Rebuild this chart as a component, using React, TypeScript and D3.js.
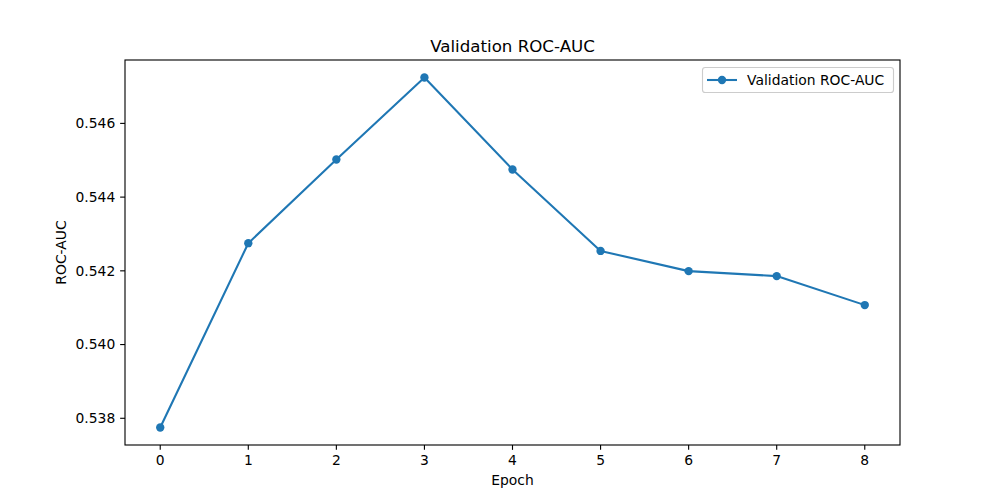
import React from "react";
import * as d3 from "d3";

const epochs = [0, 1, 2, 3, 4, 5, 6, 7, 8];
const rocAuc = [0.53775, 0.54275, 0.54502, 0.547245, 0.54475, 0.54254, 0.541992, 0.541857, 0.541072];
const yTicks = [0.538, 0.54, 0.542, 0.544, 0.546];
const xTicks = [0, 1, 2, 3, 4, 5, 6, 7, 8];
const seriesName = "Validation ROC-AUC";

const W = 1000, H = 500;
const L = 125, R = 900, T = 60, B = 445;
const FONT = "DejaVu Sans, sans-serif";
const COLOR = "#1f77b4";

export default function App() {
  const xMin = d3.min(epochs)!, xMax = d3.max(epochs)!;
  const yMin = d3.min(rocAuc)!, yMax = d3.max(rocAuc)!;
  const xm = (xMax - xMin) * 0.05, ym = (yMax - yMin) * 0.05;
  const x = d3.scaleLinear().domain([xMin - xm, xMax + xm]).range([L, R]);
  const y = d3.scaleLinear().domain([yMin - ym, yMax + ym]).range([B, T]);
  const line = d3.line<number>().x((_, i) => x(epochs[i])).y((d) => y(d));
  const tickLen = 4.86;
  const fs = 13.89;
  return (
    <svg width={W} height={H} style={{ position: "absolute", left: 0, top: 0 }} fontFamily={FONT}>
      <rect x={0} y={0} width={W} height={H} fill="#fff" />
      <text x={(L + R) / 2} y={51.7} textAnchor="middle" fontSize={16.67} fill="#000">
        Validation ROC-AUC
      </text>
      {xTicks.map((t) => (
        <g key={"x" + t}>
          <line x1={x(t)} x2={x(t)} y1={B} y2={B + tickLen} stroke="#000" strokeWidth={1.11} />
          <text x={x(t)} y={B + tickLen + 4.86} dy="0.76em" textAnchor="middle" fontSize={fs}>
            {t}
          </text>
        </g>
      ))}
      {yTicks.map((t) => (
        <g key={"y" + t}>
          <line x1={L - tickLen} x2={L} y1={y(t)} y2={y(t)} stroke="#000" strokeWidth={1.11} />
          <text x={L - tickLen - 4.86} y={y(t)} dy="0.35em" textAnchor="end" fontSize={fs}>
            {d3.format(".3f")(t)}
          </text>
        </g>
      ))}
      <text x={(L + R) / 2} y={485} textAnchor="middle" fontSize={fs}>
        Epoch
      </text>
      <text transform={`translate(66, ${(T + B) / 2}) rotate(-90)`} textAnchor="middle" fontSize={fs}>
        ROC-AUC
      </text>
      <path d={line(rocAuc)!} fill="none" stroke={COLOR} strokeWidth={2.08} strokeLinejoin="round" strokeLinecap="square" />
      {rocAuc.map((v, i) => (
        <circle key={i} cx={x(epochs[i])} cy={y(v)} r={4.17} fill={COLOR} />
      ))}
      <rect x={L} y={T} width={R - L} height={B - T} fill="none" stroke="#000" strokeWidth={1.11} />
      <g>
        <rect x={702.5} y={67.5} width={191} height={25} rx={2.8} fill="#fff" fillOpacity={0.8} stroke="#cccccc" strokeWidth={1.11} />
        <line x1={707} x2={737} y1={80} y2={80} stroke={COLOR} strokeWidth={2.08} />
        <circle cx={722} cy={80} r={4.17} fill={COLOR} />
        <text x={747} y={80} dy="0.35em" fontSize={fs}>
          {seriesName}
        </text>
      </g>
    </svg>
  );
}
